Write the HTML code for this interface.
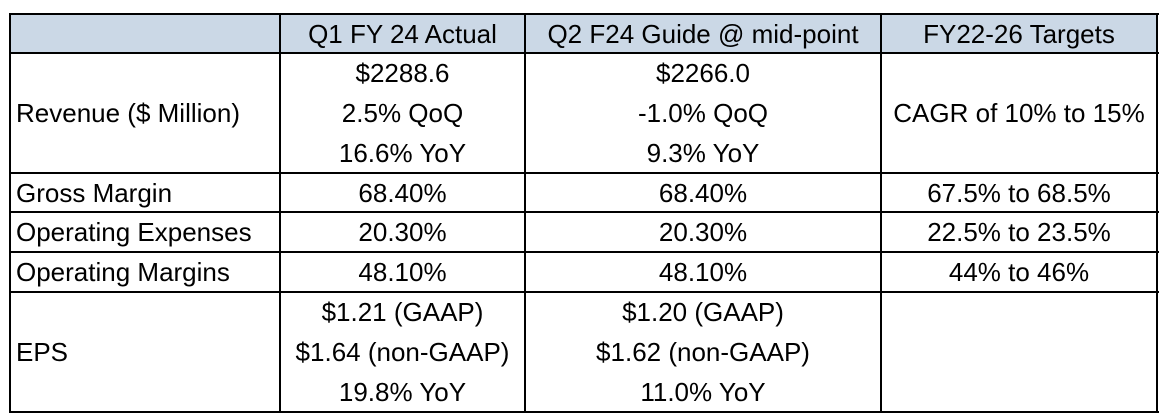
<!DOCTYPE html>
<html><head><meta charset="utf-8"><style>
body{margin:0;width:1164px;height:418px;background:#fff;position:relative;overflow:hidden;font-family:"Liberation Sans",sans-serif;color:#000}
.l{position:absolute;background:#000}
.c{position:absolute;display:flex;flex-direction:column;justify-content:center;font-size:26px;line-height:40px;white-space:nowrap}
.ctr{align-items:center;text-align:center}
.lft{align-items:flex-start;padding-left:5px}
</style></head><body>
<div style="position:absolute;left:10px;top:14px;width:1147px;height:39px;background:#cbd8e6"></div>
<div class="l" style="left:9px;top:13px;width:1150px;height:2px"></div>
<div class="l" style="left:9px;top:52px;width:1150px;height:2px"></div>
<div class="l" style="left:9px;top:172px;width:1150px;height:2px"></div>
<div class="l" style="left:9px;top:211px;width:1150px;height:2px"></div>
<div class="l" style="left:9px;top:251px;width:1150px;height:2px"></div>
<div class="l" style="left:9px;top:291px;width:1150px;height:2px"></div>
<div class="l" style="left:9px;top:411px;width:1150px;height:2px"></div>
<div class="l" style="left:9px;top:13px;width:2px;height:400px"></div>
<div class="l" style="left:279px;top:13px;width:2px;height:400px"></div>
<div class="l" style="left:524px;top:13px;width:2px;height:400px"></div>
<div class="l" style="left:880px;top:13px;width:2px;height:400px"></div>
<div class="l" style="left:1156px;top:13px;width:2px;height:400px"></div>

<div class="c ctr" style="left:281px;top:14px;width:243px;height:39px">Q1 FY 24 Actual</div>
<div class="c ctr" style="left:526px;top:14px;width:354px;height:39px">Q2 F24 Guide @ mid-point</div>
<div class="c ctr" style="left:882px;top:14px;width:274px;height:39px">FY22-26 Targets</div>

<div class="c lft" style="left:11px;top:54px;width:262px;height:118px">Revenue ($ Million)</div>
<div class="c ctr" style="left:281px;top:54px;width:243px;height:118px"><div>$2288.6</div><div>2.5% QoQ</div><div>16.6% YoY</div></div>
<div class="c ctr" style="left:526px;top:54px;width:354px;height:118px"><div>$2266.0</div><div>-1.0% QoQ</div><div>9.3% YoY</div></div>
<div class="c ctr" style="left:882px;top:54px;width:274px;height:118px">CAGR of 10% to 15%</div>

<div class="c lft" style="left:11px;top:174px;width:262px;height:37px">Gross Margin</div>
<div class="c ctr" style="left:281px;top:174px;width:243px;height:37px">68.40%</div>
<div class="c ctr" style="left:526px;top:174px;width:354px;height:37px">68.40%</div>
<div class="c ctr" style="left:882px;top:174px;width:274px;height:37px">67.5% to 68.5%</div>

<div class="c lft" style="left:11px;top:213px;width:262px;height:38px">Operating Expenses</div>
<div class="c ctr" style="left:281px;top:213px;width:243px;height:38px">20.30%</div>
<div class="c ctr" style="left:526px;top:213px;width:354px;height:38px">20.30%</div>
<div class="c ctr" style="left:882px;top:213px;width:274px;height:38px">22.5% to 23.5%</div>

<div class="c lft" style="left:11px;top:253px;width:262px;height:38px">Operating Margins</div>
<div class="c ctr" style="left:281px;top:253px;width:243px;height:38px">48.10%</div>
<div class="c ctr" style="left:526px;top:253px;width:354px;height:38px">48.10%</div>
<div class="c ctr" style="left:882px;top:253px;width:274px;height:38px">44% to 46%</div>

<div class="c lft" style="left:11px;top:293px;width:262px;height:118px">EPS</div>
<div class="c ctr" style="left:281px;top:293px;width:243px;height:118px"><div>$1.21 (GAAP)</div><div>$1.64 (non-GAAP)</div><div>19.8% YoY</div></div>
<div class="c ctr" style="left:526px;top:293px;width:354px;height:118px"><div>$1.20 (GAAP)</div><div>$1.62 (non-GAAP)</div><div>11.0% YoY</div></div>
</body></html>
